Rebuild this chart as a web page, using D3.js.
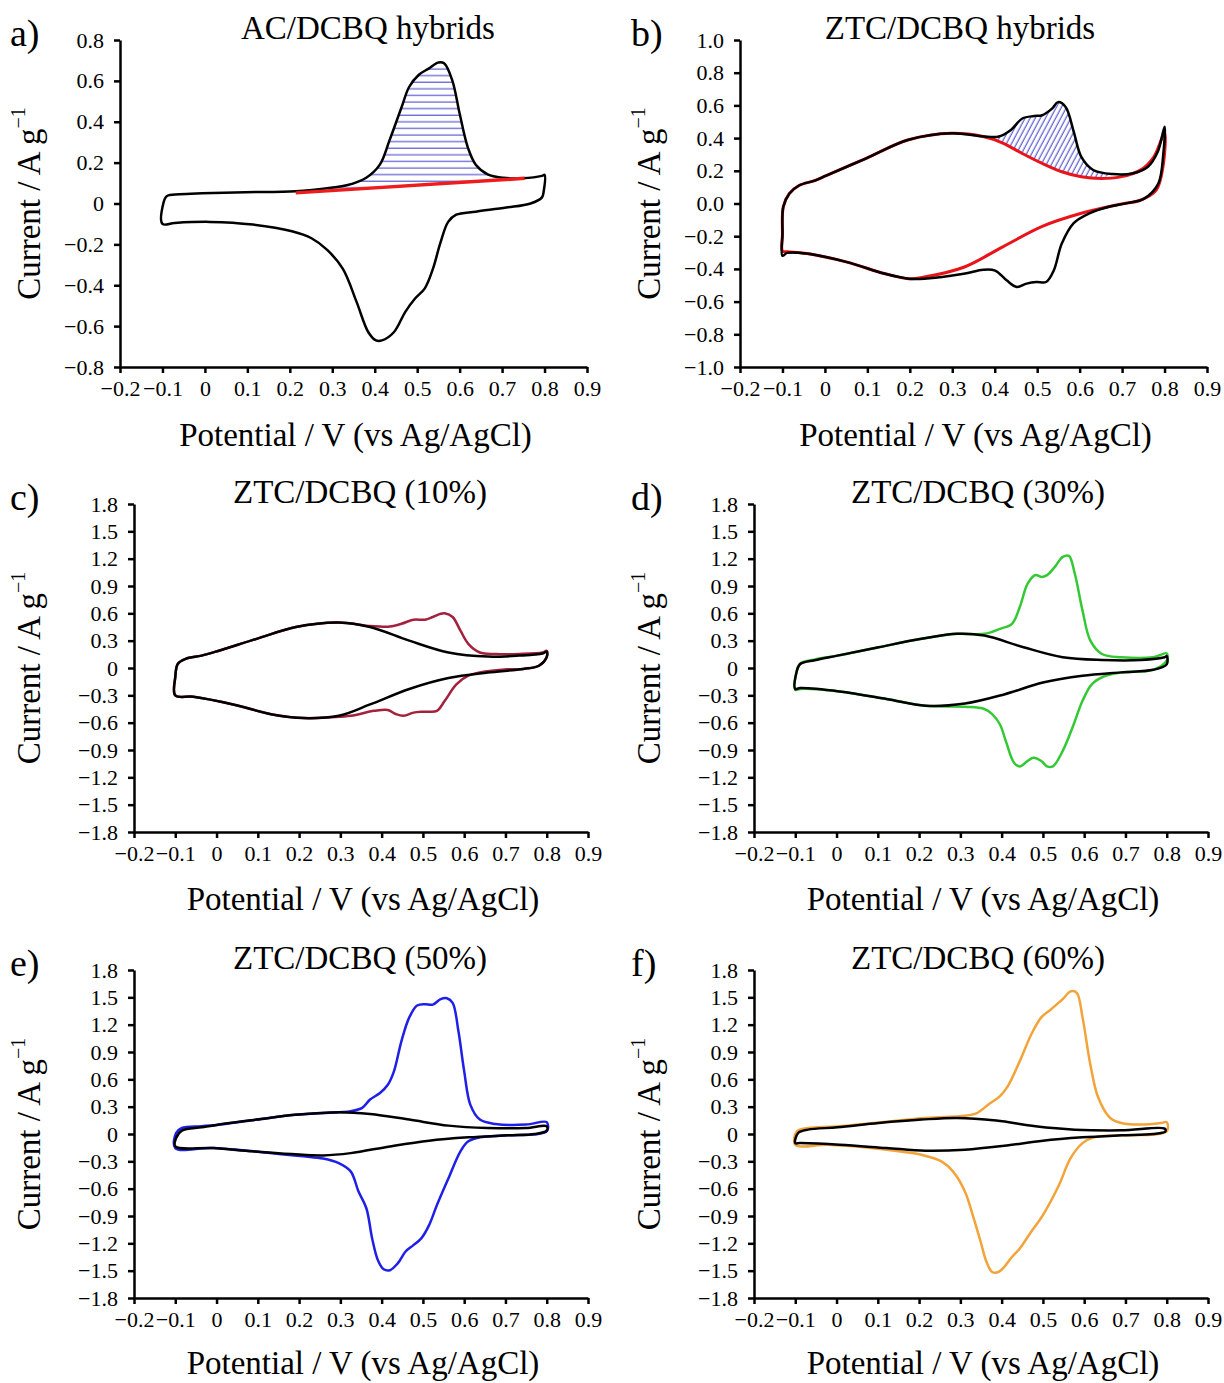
<html lang="en"><head>
<meta http-equiv="Content-Type" content="text/html; charset=UTF-8">
<title>CV panels</title>
<script type="text/javascript" src="https://cdn.jsdelivr.net/npm/d3@7"></script>
<style type="text/css">
body { margin: 0; background: #fff; }
svg text { font-family: "Liberation Serif", "Times New Roman", serif; fill: #000; }
</style>
</head>
<body>
<script type="text/javascript">

var width = 1224;
var height = 1383;

// x axis (potential, V vs Ag/AgCl)
var xTicks = [-0.2, -0.1, 0, 0.1, 0.2, 0.3, 0.4, 0.5, 0.6, 0.7, 0.8, 0.9];
var yTicksA = [-0.8, -0.6, -0.4, -0.2, 0, 0.2, 0.4, 0.6, 0.8];
var yTicksB = [-1.0, -0.8, -0.6, -0.4, -0.2, 0, 0.2, 0.4, 0.6, 0.8, 1.0];
var yTicksC = [-1.8, -1.5, -1.2, -0.9, -0.6, -0.3, 0, 0.3, 0.6, 0.9, 1.2, 1.5, 1.8];

var titles = ["AC/DCBQ hybrids", "ZTC/DCBQ hybrids", "ZTC/DCBQ (10%)",
              "ZTC/DCBQ (30%)", "ZTC/DCBQ (50%)", "ZTC/DCBQ (60%)"];
var letters = ["a)", "b)", "c)", "d)", "e)", "f)"];

// a) AC/DCBQ  [potential, current]
var aFwd = [[-0.1,-0.10],[-0.098,0.0],[-0.09,0.036],[-0.06,0.045],[-0.007,0.05],[0.095,0.055],[0.214,0.06],[0.297,0.077],[0.334,0.089],[0.38,0.126],[0.412,0.19],[0.435,0.31],[0.463,0.47],[0.481,0.57],[0.504,0.63],[0.527,0.66],[0.55,0.69],[0.564,0.685],[0.583,0.60],[0.60,0.44],[0.62,0.27],[0.638,0.19],[0.666,0.143],[0.702,0.126],[0.748,0.123],[0.794,0.135],[0.8,0.14]];
var aRev = [[0.798,0.06],[0.794,0.03],[0.767,0.0],[0.71,-0.02],[0.638,-0.04],[0.592,-0.055],[0.573,-0.09],[0.555,-0.19],[0.537,-0.32],[0.518,-0.415],[0.495,-0.465],[0.472,-0.53],[0.445,-0.63],[0.417,-0.67],[0.403,-0.67],[0.385,-0.63],[0.357,-0.48],[0.325,-0.32],[0.288,-0.227],[0.251,-0.17],[0.205,-0.136],[0.113,-0.103],[0.012,-0.09],[-0.071,-0.095]];
var aBaseline = [[0.214,0.052],[0.753,0.123]];

// b) ZTC/DCBQ hybrids
var bBlackFwd = [[-0.1,-0.32],[-0.1,-0.19],[-0.098,-0.02],[-0.084,0.06],[-0.061,0.11],[-0.024,0.14],[0.003,0.17],[0.096,0.275],[0.197,0.39],[0.299,0.43],[0.373,0.41],[0.41,0.41],[0.438,0.45],[0.465,0.52],[0.493,0.535],[0.512,0.54],[0.535,0.58],[0.549,0.62],[0.567,0.59],[0.586,0.44],[0.604,0.285],[0.632,0.205],[0.678,0.18],[0.724,0.184],[0.761,0.225],[0.784,0.316],[0.8,0.47]];
var bBlackRev = [[0.797,0.3],[0.785,0.12],[0.752,0.03],[0.715,0.004],[0.669,-0.02],[0.623,-0.06],[0.586,-0.12],[0.558,-0.245],[0.539,-0.41],[0.521,-0.48],[0.498,-0.48],[0.475,-0.49],[0.452,-0.51],[0.428,-0.47],[0.401,-0.41],[0.373,-0.405],[0.327,-0.43],[0.234,-0.46],[0.197,-0.46],[0.142,-0.43],[0.05,-0.357],[-0.043,-0.306],[-0.089,-0.302]];
var bRedFwd = [[-0.1,-0.29],[-0.1,-0.19],[-0.098,-0.02],[-0.084,0.06],[-0.061,0.11],[-0.024,0.14],[0.003,0.17],[0.096,0.275],[0.197,0.39],[0.299,0.43],[0.373,0.41],[0.419,0.37],[0.465,0.306],[0.512,0.245],[0.558,0.194],[0.604,0.163],[0.65,0.153],[0.696,0.163],[0.743,0.204],[0.775,0.286],[0.8,0.43]];
var bRedRev = [[0.796,0.22],[0.78,0.08],[0.743,0.02],[0.696,-0.004],[0.604,-0.06],[0.512,-0.14],[0.419,-0.265],[0.327,-0.39],[0.234,-0.45],[0.197,-0.46],[0.142,-0.43],[0.05,-0.357],[-0.043,-0.306],[-0.089,-0.295]];

// c) 10 %
var cBaseFwd = [[-0.1,-0.3],[-0.1,-0.1],[-0.094,0.044],[-0.075,0.1],[-0.036,0.136],[0.0015,0.184],[0.097,0.32],[0.192,0.45],[0.296,0.50],[0.372,0.45],[0.467,0.30],[0.562,0.17],[0.657,0.125],[0.733,0.136],[0.79,0.16],[0.8,0.18]];
var cBaseRev = [[0.8,0.12],[0.781,0.025],[0.743,-0.01],[0.657,-0.05],[0.562,-0.11],[0.467,-0.23],[0.372,-0.40],[0.296,-0.525],[0.21,-0.55],[0.135,-0.51],[0.04,-0.40],[-0.056,-0.316]];
var cHybFwd = [[-0.1,-0.3],[-0.1,-0.1],[-0.094,0.044],[-0.075,0.1],[-0.036,0.136],[0.0015,0.184],[0.097,0.32],[0.192,0.45],[0.296,0.50],[0.372,0.46],[0.396,0.455],[0.42,0.455],[0.448,0.485],[0.477,0.53],[0.505,0.53],[0.524,0.56],[0.543,0.595],[0.553,0.60],[0.572,0.56],[0.591,0.41],[0.61,0.265],[0.638,0.17],[0.676,0.154],[0.733,0.154],[0.79,0.17],[0.8,0.19]];
var cHybRev = [[0.8,0.12],[0.781,0.025],[0.743,-0.01],[0.705,-0.015],[0.638,-0.05],[0.61,-0.085],[0.581,-0.18],[0.553,-0.36],[0.534,-0.47],[0.515,-0.48],[0.496,-0.48],[0.477,-0.49],[0.453,-0.525],[0.434,-0.505],[0.415,-0.46],[0.382,-0.47],[0.325,-0.525],[0.277,-0.54],[0.21,-0.55],[0.135,-0.51],[0.04,-0.40],[-0.056,-0.316]];

// d) 30 %
var dBaseFwd = [[-0.1,-0.23],[-0.098,-0.066],[-0.088,0.044],[-0.05,0.088],[0.002,0.136],[0.102,0.228],[0.206,0.32],[0.292,0.375],[0.358,0.356],[0.453,0.228],[0.548,0.118],[0.643,0.088],[0.738,0.088],[0.795,0.118],[0.8,0.13]];
var dBaseRev = [[0.8,0.04],[0.767,-0.02],[0.69,-0.048],[0.596,-0.085],[0.5,-0.16],[0.406,-0.29],[0.311,-0.39],[0.216,-0.415],[0.121,-0.34],[0.007,-0.257],[-0.088,-0.22]];
var dHybFwd = [[-0.1,-0.24],[-0.098,-0.066],[-0.088,0.05],[-0.05,0.095],[0.002,0.136],[0.102,0.228],[0.206,0.32],[0.292,0.375],[0.358,0.375],[0.396,0.43],[0.425,0.485],[0.444,0.67],[0.463,0.925],[0.482,1.02],[0.496,1.0],[0.51,1.02],[0.529,1.11],[0.548,1.22],[0.563,1.23],[0.577,1.04],[0.596,0.63],[0.615,0.30],[0.643,0.154],[0.69,0.118],[0.767,0.118],[0.8,0.16]];
var dHybRev = [[0.8,0.08],[0.767,-0.02],[0.69,-0.048],[0.652,-0.085],[0.619,-0.176],[0.596,-0.36],[0.572,-0.65],[0.548,-0.91],[0.524,-1.08],[0.51,-1.08],[0.496,-1.02],[0.477,-0.985],[0.463,-1.02],[0.444,-1.08],[0.43,-1.04],[0.41,-0.8],[0.396,-0.62],[0.377,-0.507],[0.358,-0.45],[0.311,-0.426],[0.216,-0.415],[0.121,-0.34],[0.007,-0.257],[-0.088,-0.23]];

// e) 50 %
var eBaseFwd = [[-0.1,-0.136],[-0.098,-0.044],[-0.084,0.037],[-0.036,0.073],[0.0,0.10],[0.097,0.158],[0.19,0.21],[0.296,0.24],[0.372,0.22],[0.467,0.158],[0.562,0.092],[0.657,0.066],[0.75,0.066],[0.8,0.085]];
var eBaseRev = [[0.8,0.037],[0.771,0.0],[0.705,-0.015],[0.61,-0.037],[0.515,-0.073],[0.42,-0.136],[0.325,-0.21],[0.258,-0.235],[0.182,-0.22],[0.087,-0.19],[-0.008,-0.154]];
var eHybFwd = [[-0.1,-0.154],[-0.098,0.011],[-0.084,0.066],[-0.036,0.085],[0.0,0.10],[0.097,0.158],[0.19,0.21],[0.296,0.24],[0.325,0.25],[0.353,0.287],[0.372,0.378],[0.396,0.45],[0.415,0.54],[0.43,0.69],[0.448,1.02],[0.467,1.28],[0.486,1.41],[0.505,1.425],[0.524,1.42],[0.543,1.48],[0.558,1.49],[0.572,1.44],[0.586,1.13],[0.6,0.69],[0.615,0.32],[0.638,0.158],[0.676,0.11],[0.75,0.103],[0.8,0.13]];
var eHybRev = [[0.8,0.03],[0.705,-0.015],[0.638,-0.037],[0.61,-0.08],[0.591,-0.19],[0.562,-0.485],[0.534,-0.78],[0.515,-1.0],[0.496,-1.146],[0.477,-1.22],[0.458,-1.29],[0.439,-1.42],[0.42,-1.495],[0.405,-1.485],[0.391,-1.385],[0.377,-1.146],[0.363,-0.815],[0.344,-0.632],[0.325,-0.41],[0.296,-0.32],[0.258,-0.27],[0.21,-0.245],[0.135,-0.21],[-0.008,-0.154]];

// f) 60 %
var fBaseFwd = [[-0.1,-0.1],[-0.093,0.011],[-0.069,0.048],[0.002,0.073],[0.102,0.12],[0.206,0.158],[0.292,0.176],[0.387,0.147],[0.482,0.085],[0.577,0.048],[0.69,0.04],[0.795,0.059]];
var fBaseRev = [[0.797,0.03],[0.767,0.0],[0.69,-0.015],[0.596,-0.037],[0.5,-0.073],[0.406,-0.13],[0.311,-0.173],[0.216,-0.184],[0.121,-0.154],[0.007,-0.118],[-0.088,-0.1]];
var fHybFwd = [[-0.1,-0.118],[-0.096,0.03],[-0.069,0.066],[0.007,0.085],[0.216,0.176],[0.311,0.2],[0.34,0.23],[0.368,0.323],[0.396,0.415],[0.415,0.525],[0.444,0.8],[0.472,1.095],[0.496,1.28],[0.52,1.37],[0.548,1.48],[0.567,1.565],[0.582,1.55],[0.596,1.28],[0.615,0.76],[0.634,0.4],[0.663,0.176],[0.69,0.12],[0.738,0.103],[0.786,0.12],[0.8,0.13]];
var fHybRev = [[0.8,0.03],[0.69,-0.015],[0.624,-0.037],[0.596,-0.1],[0.567,-0.265],[0.539,-0.56],[0.5,-0.89],[0.472,-1.07],[0.444,-1.256],[0.425,-1.35],[0.406,-1.46],[0.392,-1.515],[0.377,-1.515],[0.363,-1.4],[0.349,-1.18],[0.33,-0.89],[0.311,-0.63],[0.282,-0.41],[0.254,-0.3],[0.206,-0.228],[0.168,-0.2],[0.073,-0.147],[-0.022,-0.118]];

var svg = d3.select("body").append("svg")
  .attr("width", width)
  .attr("height", height);

svg.append("rect").attr("width", width).attr("height", height).attr("fill", "#fff");

var defs = svg.append("defs");

// horizontal hatch (panel a)
var patA = defs.append("pattern").attr("id", "hatchA")
  .attr("patternUnits", "userSpaceOnUse")
  .attr("width", 10).attr("height", 6.6);
patA.append("line").attr("x1", 0).attr("x2", 10).attr("y1", 3).attr("y2", 3)
  .attr("stroke", "#3a3ac8").attr("stroke-width", 1);

// slanted hatch (panel b)
var patB = defs.append("pattern").attr("id", "hatchB")
  .attr("patternUnits", "userSpaceOnUse")
  .attr("width", 4.5).attr("height", 10)
  .attr("patternTransform", "rotate(28)");
patB.append("line").attr("x1", 2).attr("x2", 2).attr("y1", 0).attr("y2", 10)
  .attr("stroke", "#3a3ac8").attr("stroke-width", 1);

var fmtNoZero = function(d) { return d === 0 ? "0" : d3.format(".1f")(d); };
var fmtB = d3.format(".1f");

var panels = [
  {x0: 120, x1: 587, top: 40, bottom: 367, yDomain: [-0.8, 0.8], yTicks: yTicksA, yFmt: fmtNoZero,
   titleX: 368, letterX: 10, yTitleX: 40, xTitleDy: 79},
  {x0: 740, x1: 1207, top: 40, bottom: 367, yDomain: [-1, 1], yTicks: yTicksB, yFmt: fmtB,
   titleX: 960, letterX: 631, yTitleX: 660, xTitleDy: 79},
  {x0: 134, x1: 588, top: 504, bottom: 832, yDomain: [-1.8, 1.8], yTicks: yTicksC, yFmt: fmtNoZero,
   titleX: 360, letterX: 10, yTitleX: 40, xTitleDy: 78},
  {x0: 754, x1: 1208, top: 504, bottom: 832, yDomain: [-1.8, 1.8], yTicks: yTicksC, yFmt: fmtNoZero,
   titleX: 978, letterX: 631, yTitleX: 660, xTitleDy: 78},
  {x0: 134, x1: 588, top: 970, bottom: 1298, yDomain: [-1.8, 1.8], yTicks: yTicksC, yFmt: fmtNoZero,
   titleX: 360, letterX: 10, yTitleX: 40, xTitleDy: 76},
  {x0: 754, x1: 1208, top: 970, bottom: 1298, yDomain: [-1.8, 1.8], yTicks: yTicksC, yFmt: fmtNoZero,
   titleX: 978, letterX: 631, yTitleX: 660, xTitleDy: 76}
];

// curves per panel, drawn in order (last on top)
panels[0].curves = [
  {data: aFwd.concat(aRev), color: "#000", closed: true},
  {data: aBaseline, color: "#ee1c1c", closed: false, straight: true}
];
panels[1].curves = [
  {data: bRedFwd.concat(bRedRev), color: "#e8141a", closed: true, width: 3},
  {data: bBlackFwd.concat(bBlackRev), color: "#000", closed: true}
];
panels[2].curves = [
  {data: cHybFwd.concat(cHybRev), color: "#a3213c", closed: true},
  {data: cBaseFwd.concat(cBaseRev), color: "#000", closed: true}
];
panels[3].curves = [
  {data: dHybFwd.concat(dHybRev), color: "#34c934", closed: true},
  {data: dBaseFwd.concat(dBaseRev), color: "#000", closed: true}
];
panels[4].curves = [
  {data: eHybFwd.concat(eHybRev), color: "#1f1fe6", closed: true},
  {data: eBaseFwd.concat(eBaseRev), color: "#000", closed: true}
];
panels[5].curves = [
  {data: fHybFwd.concat(fHybRev), color: "#f2a33a", closed: true},
  {data: fBaseFwd.concat(fBaseRev), color: "#000", closed: true}
];

panels.forEach(function(p, idx) {
  var g = svg.append("g");
  var x = d3.scaleLinear().domain([-0.2, 0.9]).range([p.x0, p.x1]);
  var y = d3.scaleLinear().domain(p.yDomain).range([p.bottom, p.top]);

  var lineOpen = d3.line().x(function(d) { return x(d[0]); }).y(function(d) { return y(d[1]); })
    .curve(d3.curveCatmullRom.alpha(0.5));
  var lineClosed = d3.line().x(function(d) { return x(d[0]); }).y(function(d) { return y(d[1]); })
    .curve(d3.curveCatmullRomClosed.alpha(0.5));
  var lineStraight = d3.line().x(function(d) { return x(d[0]); }).y(function(d) { return y(d[1]); });

  // hatched charge areas
  if (idx === 0) {
    var top = aFwd.filter(function(d) { return d[0] >= 0.214 && d[0] <= 0.75; });
    var path = lineOpen(top) + "L" + x(aBaseline[1][0]) + "," + y(aBaseline[1][1]) +
               "L" + x(aBaseline[0][0]) + "," + y(aBaseline[0][1]) + "Z";
    g.append("path").attr("d", path).attr("fill", "url(#hatchA)").attr("stroke", "none");
  }
  if (idx === 1) {
    var upper = bBlackFwd.filter(function(d) { return d[0] >= 0.37 && d[0] <= 0.68; });
    var lower = bRedFwd.filter(function(d) { return d[0] >= 0.37 && d[0] <= 0.68; }).reverse();
    var path2 = lineOpen(upper) + "L" + lineOpen(lower).slice(1) + "Z";
    g.append("path").attr("d", path2).attr("fill", "url(#hatchB)").attr("stroke", "none");
  }

  p.curves.forEach(function(c) {
    var gen = c.straight ? lineStraight : (c.closed ? lineClosed : lineOpen);
    g.append("path")
      .attr("d", gen(c.data))
      .attr("fill", "none")
      .attr("stroke", c.color)
      .attr("stroke-width", c.width || (c.straight ? 3.5 : 2.5))
      .attr("stroke-linejoin", "round");
  });

  // axes
  var xAxis = g.append("g")
    .attr("transform", "translate(0," + p.bottom + ")")
    .call(d3.axisBottom(x).tickValues(xTicks).tickFormat(fmtNoZero).tickSize(6).tickSizeOuter(0).tickPadding(7));
  var yAxis = g.append("g")
    .attr("transform", "translate(" + p.x0 + ",0)")
    .call(d3.axisLeft(y).tickValues(p.yTicks).tickFormat(p.yFmt).tickSize(6).tickSizeOuter(0).tickPadding(10));

  [xAxis, yAxis].forEach(function(ax) {
    ax.attr("font-family", null).attr("font-size", null);
    ax.select(".domain").attr("stroke", "#000").attr("stroke-width", 2.5);
    ax.selectAll(".tick line").attr("stroke", "#000").attr("stroke-width", 2.5);
    ax.selectAll(".tick text")
      .attr("font-size", 22)
      .attr("fill", "#000");
  });

  // titles
  g.append("text")
    .attr("x", p.titleX).attr("y", p.top - 1)
    .attr("text-anchor", "middle")
    .attr("font-size", 33)
    .text(titles[idx]);

  g.append("text")
    .attr("x", p.letterX).attr("y", p.top + 6)
    .attr("font-size", 38)
    .text(letters[idx]);

  g.append("text")
    .attr("x", (p.x0 + p.x1) / 2 + 2).attr("y", p.bottom + p.xTitleDy)
    .attr("text-anchor", "middle")
    .attr("font-size", 33)
    .text("Potential  /  V (vs Ag/AgCl)");

  var yt = g.append("text")
    .attr("transform", "translate(" + p.yTitleX + "," + ((p.top + p.bottom) / 2) + ") rotate(-90)")
    .attr("text-anchor", "middle")
    .attr("font-size", 33);
  yt.append("tspan").text("Current  /  A g");
  yt.append("tspan").attr("dy", "-0.75em").attr("font-size", 20).text("\u22121");
});

</script>
</body></html>
